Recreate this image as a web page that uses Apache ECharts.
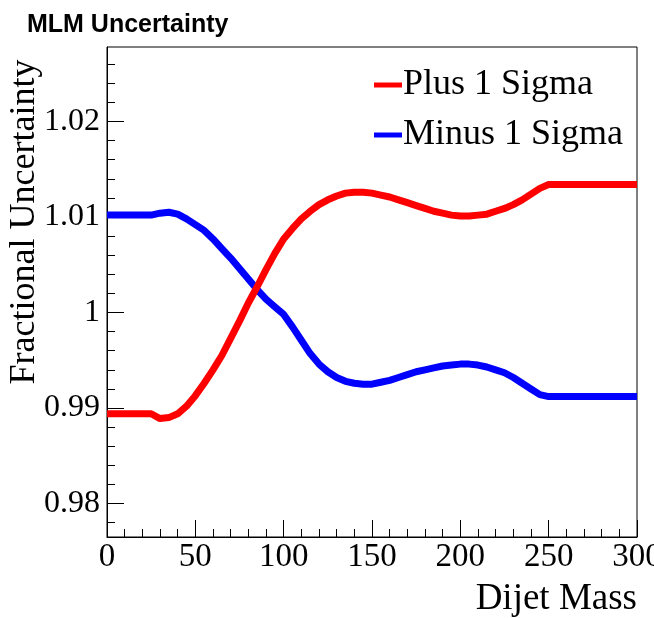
<!DOCTYPE html>
<html>
<head>
<meta charset="utf-8">
<script src="https://cdn.jsdelivr.net/npm/echarts@6/dist/echarts.min.js"></script>
<style>html,body{margin:0;padding:0;background:#fff;}#c{width:654px;height:618px;}</style>
</head>
<body>
<div id="c"></div>
<script>
var dijetMass = [0,5,10,15,20,25,30,35,40,45,50,55,60,65,70,75,80,85,90,95,100,105,110,115,120,125,130,135,140,145,150,155,160,165,170,175,180,185,190,195,200,205,210,215,220,225,230,235,240,245,250,255,260,265,270,275,280,285,290,295,300];
var plusSigma = [0.9894,0.9894,0.9894,0.9894,0.9894,0.9894,0.9889,0.9890,0.9894,0.9902,0.9913,0.9926,0.9940,0.9955,0.9973,0.9991,1.0010,1.0027,1.0045,1.0062,1.0077,1.0088,1.0098,1.0106,1.0113,1.0118,1.0122,1.0125,1.0126,1.0126,1.0125,1.0123,1.0121,1.0118,1.0115,1.0112,1.0109,1.0106,1.0104,1.0102,1.0101,1.0101,1.0102,1.0103,1.0106,1.0109,1.0113,1.0118,1.0124,1.0130,1.0134,1.0134,1.0134,1.0134,1.0134,1.0134,1.0134,1.0134,1.0134,1.0134,1.0134];
var minusSigma = [1.0102,1.0102,1.0102,1.0102,1.0102,1.0102,1.0104,1.0105,1.0103,1.0098,1.0092,1.0086,1.0077,1.0067,1.0057,1.0046,1.0035,1.0024,1.0014,1.0006,0.9998,0.9985,0.9971,0.9957,0.9946,0.9938,0.9932,0.9928,0.9926,0.9925,0.9925,0.9927,0.9929,0.9932,0.9935,0.9938,0.9940,0.9942,0.9944,0.9945,0.9946,0.9946,0.9945,0.9943,0.9940,0.9937,0.9932,0.9926,0.9920,0.9914,0.9912,0.9912,0.9912,0.9912,0.9912,0.9912,0.9912,0.9912,0.9912,0.9912,0.9912];
var yMajorTicks = [0.98,0.99,1,1.01,1.02];
var yMinorTicks = [0.978,0.982,0.984,0.986,0.988,0.992,0.994,0.996,0.998,1.002,1.004,1.006,1.008,1.012,1.014,1.016,1.018,1.022,1.024,1.026];
var seriesNames = ['Plus 1 Sigma','Minus 1 Sigma'];

function pairs(xs, ys){ return xs.map(function(x,i){ return [x, ys[i]]; }); }

var serif = '"Liberation Serif","DejaVu Serif",serif';
var chart = echarts.init(document.getElementById('c'), null, {renderer:'canvas'});
var yBase = {
  type:'value', min:0.9765, max:1.0278, position:'left',
  splitLine:{show:false}
};
chart.setOption({
  animation:false,
  backgroundColor:'#ffffff',
  title:{text:'MLM Uncertainty', left:22, top:8,
    textStyle:{fontFamily:'"Liberation Sans",Arial,sans-serif', fontWeight:'bold', fontSize:25, color:'#000'}},
  legend:{orient:'vertical', left:369, top:62, itemWidth:28, itemHeight:5, itemGap:14,
    icon:'rect', selectedMode:false,
    textStyle:{fontFamily:serif, fontSize:36, color:'#000', lineHeight:36, padding:[0,0,0,-4]},
    data:seriesNames},
  grid:{left:107, right:17, top:47, bottom:81, containLabel:false, outerBoundsMode:'none',
    show:true, borderColor:'#000', borderWidth:1, backgroundColor:'transparent'},
  xAxis:{type:'value', min:0, max:300, interval:50,
    name:'Dijet Mass', nameLocation:'end', nameGap:0, nameMoveOverlap:false,
    nameTextStyle:{fontFamily:serif, fontSize:37, color:'#000', align:'right', verticalAlign:'top', padding:[44,0,0,0]},
    axisLine:{show:true, lineStyle:{color:'#000', width:1}},
    axisTick:{show:true, inside:true, length:17, lineStyle:{color:'#000', width:1}},
    minorTick:{show:true, splitNumber:5, length:8, lineStyle:{color:'#000', width:1}},
    axisLabel:{fontFamily:serif, fontSize:33, color:'#000', margin:4},
    splitLine:{show:false}},
  yAxis:[
    Object.assign({}, yBase, {
      name:'Fractional Uncertainty', nameLocation:'middle', nameGap:64, nameMoveOverlap:false,
      nameTextStyle:{fontFamily:serif, fontSize:36, color:'#000', padding:[0,0,0,140]},
      axisLine:{show:true, lineStyle:{color:'#000', width:1}},
      axisTick:{show:true, inside:true, length:17, customValues:yMajorTicks, lineStyle:{color:'#000', width:1}},
      axisLabel:{fontFamily:serif, fontSize:32, color:'#000', margin:7, customValues:yMajorTicks,
        formatter:function(v){ return String(+v.toFixed(2)); }}
    }),
    Object.assign({}, yBase, {
      axisLine:{show:false},
      axisTick:{show:true, inside:true, length:8, customValues:yMinorTicks, lineStyle:{color:'#000', width:1}},
      axisLabel:{show:false}
    })
  ],
  series:[
    {name:seriesNames[0], type:'line', data:pairs(dijetMass, plusSigma), showSymbol:false, symbol:'none',
      color:'#ff0000', lineStyle:{color:'#ff0000', width:7}, z:3},
    {name:seriesNames[1], type:'line', data:pairs(dijetMass, minusSigma), showSymbol:false, symbol:'none',
      color:'#0000ff', lineStyle:{color:'#0000ff', width:7}, z:2}
  ]
});
</script>
</body>
</html>
